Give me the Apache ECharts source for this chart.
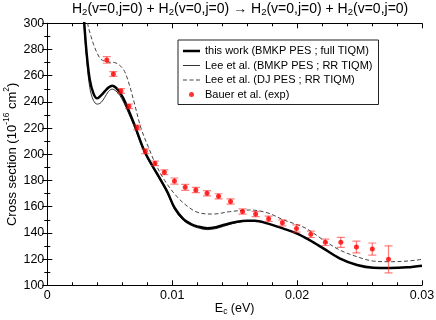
<!DOCTYPE html>
<html>
<head>
<meta charset="utf-8">
<script src="https://cdn.jsdelivr.net/npm/echarts@6/dist/echarts.min.js"></script>
<style>html,body{margin:0;padding:0;background:#fff}#c{width:436px;height:320px}</style>
</head>
<body>
<div id="c"></div>
<script>
// ---- data ----
const xTicks = [0, 0.01, 0.02, 0.03];
const yTicks = [100, 120, 140, 160, 180, 200, 220, 240, 260, 280, 300];

const thisWorkX = [0.0027, 0.0029, 0.00315, 0.0034, 0.0037, 0.0040, 0.0043, 0.0046, 0.0049, 0.0052, 0.0055, 0.0058, 0.0061, 0.0065, 0.0070, 0.0078, 0.0088, 0.0096, 0.0102, 0.0109, 0.0115, 0.0120, 0.0128, 0.0135, 0.0141, 0.0152, 0.0160, 0.0166, 0.0176, 0.0189, 0.0200, 0.0210, 0.0221, 0.0234, 0.0248, 0.0261, 0.0274, 0.0288, 0.0300];
const thisWorkY = [340, 308, 277, 257, 246.3, 242.7, 245, 248, 251, 252.4, 250.8, 247.3, 242.5, 233.8, 222, 202, 185, 171.5, 159, 150.5, 146.8, 145, 143.5, 144.3, 146, 148.5, 149.3, 149.3, 147.3, 143.3, 139.5, 134.5, 128.2, 120.6, 115.5, 113.4, 113.2, 113.7, 115];

const leeBmkpX = [0.0027, 0.0029, 0.00315, 0.0034, 0.0037, 0.0040, 0.0043, 0.0046, 0.0049, 0.0052, 0.0055, 0.0058, 0.0061, 0.0065, 0.0070, 0.0078, 0.0088, 0.0096, 0.0102, 0.0109, 0.0115, 0.0120, 0.0128, 0.0135, 0.0141, 0.0152, 0.0160, 0.0166, 0.0176, 0.0189, 0.0200, 0.0210, 0.0221, 0.0234, 0.0248, 0.0261, 0.0274, 0.0288, 0.0300];
const leeBmkpY = [338, 305, 273, 251, 241, 238.3, 239.5, 243.5, 248, 249.7, 248.3, 245, 240, 231.5, 220.5, 201, 184, 170.5, 158, 149.5, 145.8, 144, 142.5, 143.3, 145, 148, 149, 149.2, 147.3, 143.3, 139.5, 134.5, 128.2, 120.6, 115.5, 113.4, 113.2, 113.7, 115];

const leeDjX = [0.0030, 0.00323, 0.0035, 0.0037, 0.0040, 0.0043, 0.0048, 0.0054, 0.0058, 0.0062, 0.0066, 0.0070, 0.0075, 0.0082, 0.0086, 0.0094, 0.0104, 0.0114, 0.0122, 0.0133, 0.0146, 0.0162, 0.0176, 0.0189, 0.0200, 0.0208, 0.0221, 0.0234, 0.0248, 0.0261, 0.0274, 0.0288, 0.0300];
const leeDjY = [330, 300, 290, 284, 277, 272.5, 270.5, 270, 268, 263, 252, 238, 220, 203, 194, 180, 167.5, 159, 155.2, 154.4, 156.2, 157.5, 155.4, 150, 146.3, 143, 134.6, 127, 121.8, 118.5, 118, 118.5, 119.8];

const bauerX = [0.00476, 0.00529, 0.00590, 0.00654, 0.00720, 0.00785, 0.00862, 0.00937, 0.01018, 0.01104, 0.01189, 0.01279, 0.01371, 0.01467, 0.01563, 0.01668, 0.01772, 0.01882, 0.01995, 0.02110, 0.02226, 0.02350, 0.02475, 0.02602, 0.02732];
const bauerY = [272.0, 261.3, 248.3, 236.6, 220.5, 202.3, 193.1, 186.3, 179.6, 174.8, 172.7, 170.2, 167.9, 164.0, 156.3, 154.4, 150.8, 147.7, 143.4, 138.9, 132.8, 132.8, 129.2, 127.7, 119.8];
const bauerErr = [2.5, 1.8, 1.8, 1.8, 1.8, 1.8, 1.8, 1.8, 2.3, 2.3, 2.0, 2.0, 2.0, 2.0, 2.0, 2.0, 2.0, 2.3, 2.8, 2.4, 2.4, 3.8, 4.5, 4.6, 10.3];

const names = [
  'this work (BMKP PES ; full TIQM)',
  'Lee et al. (BMKP PES ; RR TIQM)',
  'Lee et al. (DJ PES ; RR TIQM)',
  'Bauer et al. (exp)'
];

// ---- build ----
const zip = (xs, ys) => xs.map((x, i) => [x, ys[i]]);
const FONT = '"Liberation Sans", Arial, Helvetica, sans-serif';

const chart = echarts.init(document.getElementById('c'), null, {renderer: 'canvas'});

const axisLine = {show: true, lineStyle: {color: '#000', width: 1}};
const axisTick = {show: true, inside: true, length: 5, lineStyle: {color: '#000'}};
const noSplit = {show: false};

const xMin = xTicks[0], xMax = xTicks[xTicks.length - 1], xInt = xTicks[1] - xTicks[0];
const yMin = yTicks[0], yMax = yTicks[yTicks.length - 1], yInt = yTicks[1] - yTicks[0];

const option = {
  animation: false,
  backgroundColor: '#fff',
  textStyle: {fontFamily: FONT},
  title: {
    left: 72,
    top: 1,
    text: '{n|H}{s|2}{n|(v=0,j=0) + H}{s|2}{n|(v=0,j=0) \u2192 H}{s|2}{n|(v=0,j=0) + H}{s|2}{n|(v=0,j=0)}',
    padding: 0,
    textStyle: {
      fontFamily: FONT,
      fontWeight: 'normal',
      color: '#000',
      rich: {
        n: {fontFamily: FONT, fontSize: 14, color: '#000', lineHeight: 16},
        s: {fontFamily: FONT, fontSize: 9.5, color: '#000', lineHeight: 8, verticalAlign: 'bottom'}
      }
    }
  },
  grid: {left: 47.3, right: 14, top: 23.3, bottom: 34.7, containLabel: false, outerBoundsMode: 'none'},
  legend: {
    orient: 'vertical',
    left: 178,
    top: 40,
    backgroundColor: '#fff',
    borderColor: '#222',
    borderWidth: 1,
    borderRadius: 0,
    padding: [4, 6, 3, 5],
    itemWidth: 17,
    itemHeight: 5,
    itemGap: 0.5,
    textStyle: {fontFamily: FONT, fontSize: 11, color: '#000', lineHeight: 14},
    data: [
      {name: names[0], icon: 'path://M0,0H17V2.5H0Z', itemStyle: {color: '#000'}},
      {name: names[1], icon: 'path://M0,0H17V1H0Z', itemStyle: {color: '#333'}},
      {name: names[2], icon: 'path://M0,0H4V1H0Z M6.5,0H10.5V1H6.5Z M13,0H17V1H13Z', itemStyle: {color: '#444'}},
      {name: names[3], icon: 'circle', itemStyle: {color: '#ff0000'}}
    ]
  },
  xAxis: [
    {
      type: 'value', position: 'bottom', min: xMin, max: xMax, interval: xInt,
      axisLine: axisLine, axisTick: axisTick, splitLine: noSplit,
      minorTick: {show: true, splitNumber: 5, length: 3, lineStyle: {color: '#000'}},
      axisLabel: {
        show: true, color: '#000', fontFamily: FONT, fontSize: 12.5, margin: 4,
        formatter: v => (Math.abs(v) < 1e-12 ? '0' : v.toFixed(2))
      },
      name: '{n|E}{s|c}{n| (eV)}',
      nameLocation: 'middle',
      nameGap: 15,
      nameMoveOverlap: false,
      nameTextStyle: {
        color: '#000',
        rich: {
          n: {fontFamily: FONT, fontSize: 12.5, color: '#000', lineHeight: 16},
          s: {fontFamily: FONT, fontSize: 8.5, color: '#000', lineHeight: 8, verticalAlign: 'bottom'}
        }
      }
    },
    {
      type: 'value', position: 'top', min: xMin, max: xMax, interval: xInt,
      axisLine: axisLine, axisTick: axisTick, splitLine: noSplit,
      minorTick: {show: true, splitNumber: 5, length: 3, lineStyle: {color: '#000'}},
      axisLabel: {show: false}
    }
  ],
  yAxis: [
    {
      type: 'value', position: 'left', min: yMin, max: yMax, interval: yInt,
      axisLine: axisLine, axisTick: axisTick, splitLine: noSplit,
      minorTick: {show: true, splitNumber: 2, length: 3, lineStyle: {color: '#000'}},
      axisLabel: {show: true, color: '#000', fontFamily: FONT, fontSize: 12.5, margin: 3},
      name: '{n|Cross section (10}{p|-16}{n| cm}{p|2}{n|)}',
      nameLocation: 'middle',
      nameGap: 25,
      nameMoveOverlap: false,
      nameTextStyle: {
        color: '#000',
        rich: {
          n: {fontFamily: FONT, fontSize: 13, color: '#000', lineHeight: 20},
          p: {fontFamily: FONT, fontSize: 8.5, color: '#000', lineHeight: 8, verticalAlign: 'top'}
        }
      }
    },
    {
      type: 'value', position: 'right', min: yMin, max: yMax, interval: yInt,
      axisLine: axisLine, axisTick: axisTick, splitLine: noSplit,
      minorTick: {show: true, splitNumber: 2, length: 3, lineStyle: {color: '#000'}},
      axisLabel: {show: false}
    }
  ],
  series: [
    {
      name: names[1], type: 'line', xAxisIndex: 0, yAxisIndex: 0,
      data: zip(leeBmkpX, leeBmkpY), symbol: 'none', showSymbol: false, smooth: 0.35, clip: true,
      lineStyle: {color: '#333', width: 1}, itemStyle: {color: '#333'}, z: 3
    },
    {
      name: names[2], type: 'line', xAxisIndex: 0, yAxisIndex: 0,
      data: zip(leeDjX, leeDjY), symbol: 'none', showSymbol: false, smooth: 0.35, clip: true,
      lineStyle: {color: '#444', width: 1, type: [4, 2.5]}, itemStyle: {color: '#444'}, z: 3
    },
    {
      name: names[0], type: 'line', xAxisIndex: 0, yAxisIndex: 0,
      data: zip(thisWorkX, thisWorkY), symbol: 'none', showSymbol: false, smooth: 0.35, clip: true,
      lineStyle: {color: '#000', width: 2.5}, itemStyle: {color: '#000'}, z: 4
    },
    {
      name: 'errors', type: 'custom', xAxisIndex: 0, yAxisIndex: 0,
      data: bauerX.map((x, i) => [x, bauerY[i], bauerErr[i]]),
      encode: {x: 0, y: 1},
      clip: true,
      z: 5,
      renderItem: function (params, api) {
        const x = api.value(0), y = api.value(1), e = api.value(2);
        const t = api.coord([x, y + e]);
        const b = api.coord([x, y - e]);
        const hw = 4;
        const st = {stroke: 'rgba(255,40,40,0.6)', lineWidth: 1.2};
        return {
          type: 'group',
          children: [
            {type: 'line', shape: {x1: t[0], y1: t[1], x2: b[0], y2: b[1]}, style: st},
            {type: 'line', shape: {x1: t[0] - hw, y1: t[1], x2: t[0] + hw, y2: t[1]}, style: st},
            {type: 'line', shape: {x1: b[0] - hw, y1: b[1], x2: b[0] + hw, y2: b[1]}, style: st}
          ]
        };
      }
    },
    {
      name: names[3], type: 'scatter', xAxisIndex: 0, yAxisIndex: 0,
      data: zip(bauerX, bauerY), symbol: 'circle', symbolSize: 5,
      itemStyle: {color: '#ff0000'}, z: 6
    }
  ]
};
chart.setOption(option);
</script>
</body>
</html>
